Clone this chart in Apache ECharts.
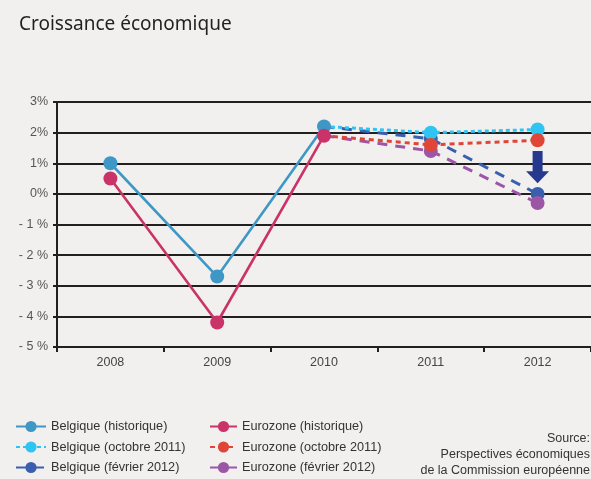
<!DOCTYPE html>
<html>
<head>
<meta charset="utf-8">
<script src="https://cdn.jsdelivr.net/npm/echarts@6/dist/echarts.min.js"></script>
<style>
  html, body { margin: 0; padding: 0; background: #f1f0ee; }
  #chart { width: 591px; height: 479px; }
</style>
</head>
<body>
<div id="chart"></div>
<script>
// Years on the horizontal axis
const years = ['2008', '2009', '2010', '2011', '2012'];

// Real GDP growth, % (historical)
const belgiqueHistorique = [1.0, -2.7, 2.2, null, null];
const eurozoneHistorique = [0.5, -4.2, 1.9, null, null];

// Forecasts, October 2011
const belgiqueOctobre2011 = [null, null, 2.2, 2.0, 2.1];
const eurozoneOctobre2011 = [null, null, 1.9, 1.6, 1.75];

// Forecasts, February 2012
const belgiqueFevrier2012 = [null, null, 2.2, 1.8, 0.0];
const eurozoneFevrier2012 = [null, null, 1.9, 1.4, -0.3];

// Revision arrow on 2012: [year, from %, to %]
const revisionArrow = [['2012', 1.4, 0.35]];

// Y-axis range
const yMin = -5, yMax = 3, yStep = 1;

const sourceLines = ['Source:', 'Perspectives économiques', 'de la Commission européenne'];

const ink = '#231f20';
const labelFont = 'Liberation Sans, Arial, sans-serif';

function pctLabel(v) {
  if (v < 0) return '- ' + Math.abs(v) + ' %';
  return v + '%';
}

function lineSeries(name, data, color, dash, width, z) {
  return {
    name: name,
    type: 'line',
    data: data,
    z: z,
    symbol: 'circle',
    symbolSize: 14,
    showSymbol: true,
    connectNulls: false,
    lineStyle: { color: color, width: width, type: dash },
    itemStyle: { color: color },
    emphasis: { disabled: true },
    animation: false
  };
}

// Forecast series start at the 2010 historical point without their own marker there
function hideFirst(data) {
  return data.map(function (v, i) {
    if (v !== null && i === 2) return { value: v, symbol: 'none' };
    return v;
  });
}

const chart = echarts.init(document.getElementById('chart'), null, { renderer: 'canvas' });

const legendCommon = {
  orient: 'vertical', top: 420, padding: 0, height: 60,
  itemHeight: 14, itemGap: 7.5,
  textStyle: { color: '#333', fontSize: 12.7, fontFamily: labelFont },
  selectedMode: false
};

chart.setOption({
  backgroundColor: '#f1f0ee',
  animation: false,
  title: {
    text: 'Croissance économique',
    left: 14,
    top: 10,
    textStyle: { fontFamily: 'Noto Sans, sans-serif', fontSize: 19, fontWeight: 'normal', color: ink }
  },
  // plot runs off the right edge of the page
  grid: { left: 57, top: 102, right: -3, height: 245, containLabel: false },
  xAxis: {
    type: 'category', data: years, boundaryGap: true, position: 'bottom',
    axisLine: { show: true, onZero: false, lineStyle: { color: ink, width: 2 } },
    axisTick: { show: true, length: 5, lineStyle: { color: ink, width: 2 } },
    axisLabel: { show: true, margin: 9, color: '#444', fontSize: 12.5, fontFamily: labelFont },
    splitLine: { show: false }
  },
  yAxis: {
    type: 'value', min: yMin, max: yMax, interval: yStep,
    axisLine: { show: true, onZero: false, lineStyle: { color: ink, width: 2 } },
    axisTick: { show: true, length: 4, lineStyle: { color: ink, width: 2 } },
    axisLabel: { margin: 9, color: '#555', fontSize: 12.5, fontFamily: labelFont, formatter: pctLabel },
    splitLine: { show: true, lineStyle: { color: ink, width: 2 } }
  },
  legend: [
    Object.assign({}, legendCommon, {
      left: 15, itemWidth: 30,
      data: ['Belgique (historique)', 'Belgique (octobre 2011)', 'Belgique (février 2012)']
    }),
    Object.assign({}, legendCommon, {
      left: 209, itemWidth: 27,
      data: ['Eurozone (historique)', 'Eurozone (octobre 2011)', 'Eurozone (février 2012)']
    })
  ],
  graphic: [
    {
      type: 'text', right: 1, top: 431,
      style: {
        text: sourceLines.join('\n'), textAlign: 'right', lineHeight: 16,
        fill: '#333', fontSize: 12.5, fontFamily: labelFont
      }
    }
  ],
  series: [
    lineSeries('Belgique (février 2012)', hideFirst(belgiqueFevrier2012), '#3a5fae', [10, 8], 3, 2),
    lineSeries('Eurozone (février 2012)', hideFirst(eurozoneFevrier2012), '#9c56a5', [10, 8], 3, 3),
    lineSeries('Belgique (octobre 2011)', hideFirst(belgiqueOctobre2011), '#2ec5f2', [4, 3], 3, 4),
    lineSeries('Eurozone (octobre 2011)', hideFirst(eurozoneOctobre2011), '#df4638', [5, 4], 3, 5),
    lineSeries('Belgique (historique)', belgiqueHistorique, '#3f97c6', 'solid', 2.6, 6),
    lineSeries('Eurozone (historique)', eurozoneHistorique, '#c93368', 'solid', 2.6, 7),
    {
      type: 'custom',
      data: revisionArrow,
      z: 8,
      silent: true,
      renderItem: function (params, api) {
        const top = api.coord([api.value(0), api.value(1)]);
        const tip = api.coord([api.value(0), api.value(2)]);
        const x = top[0];
        const shaft = 5, head = 11.5, headH = 12;
        const baseY = tip[1] - headH;
        return {
          type: 'polygon',
          shape: {
            points: [
              [x - shaft, top[1]], [x + shaft, top[1]], [x + shaft, baseY],
              [x + head, baseY], [x, tip[1]], [x - head, baseY], [x - shaft, baseY]
            ]
          },
          style: { fill: '#27398f' }
        };
      }
    }
  ]
});
</script>
</body>
</html>
